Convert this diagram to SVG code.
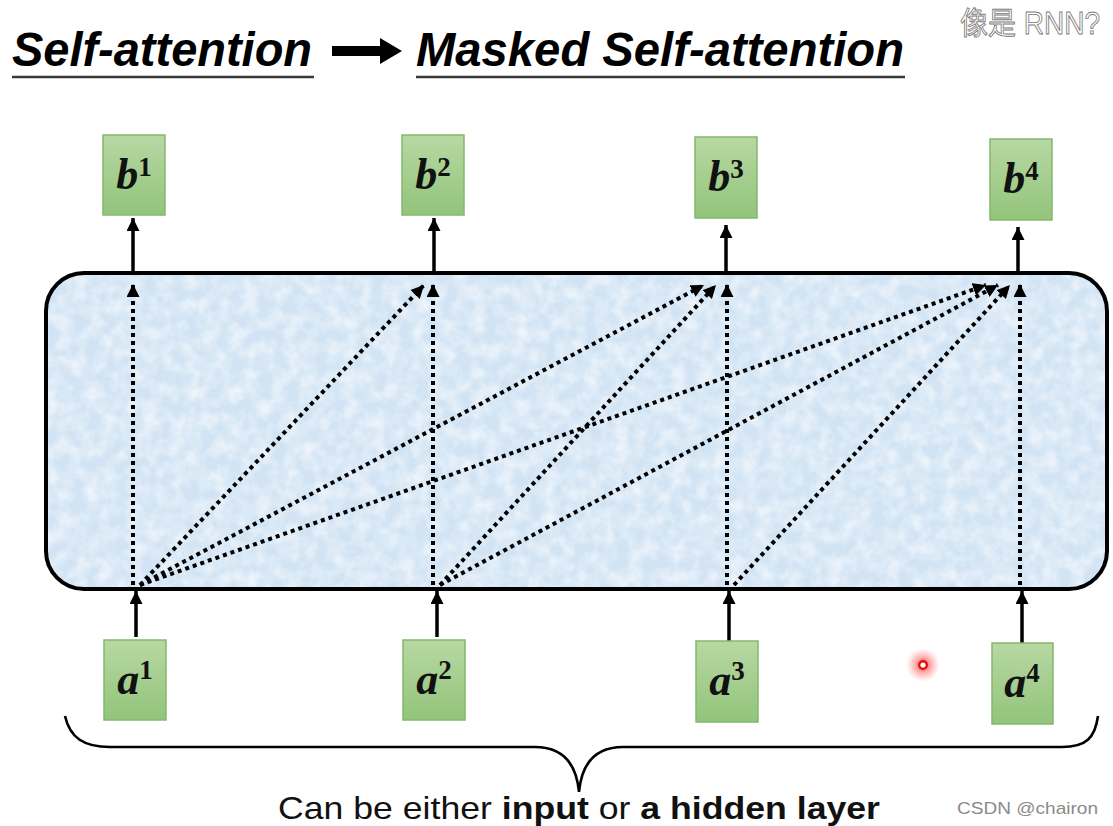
<svg xmlns="http://www.w3.org/2000/svg" width="1113" height="826" viewBox="0 0 1113 826">
<defs>
<style>
.title{font-family:"Liberation Sans",Arial,sans-serif;font-weight:bold;font-style:italic;font-size:48px;fill:#000}
.uline{stroke:#3a3a3a;stroke-width:2.5}
.node rect{fill:url(#g);stroke:#82b86c;stroke-width:1.5}
.lab{font-family:"Liberation Serif","Times New Roman",serif;font-weight:bold;fill:#111}
.base{font-style:italic;font-size:44px}
.sup{font-size:27px}
.solid{stroke:#000;stroke-width:3.5;fill:none}
.dot{stroke:#000;stroke-width:4;stroke-dasharray:4 4;fill:none}
.bottom{font-family:"Liberation Sans",Arial,sans-serif;font-size:32px;fill:#111}
</style>
<linearGradient id="g" x1="0" y1="0" x2="0" y2="1">
<stop offset="0" stop-color="#b8d8a3"/>
<stop offset="1" stop-color="#92c47b"/>
</linearGradient>
<radialGradient id="glow">
<stop offset="0" stop-color="#ff1010" stop-opacity="0.85"/>
<stop offset="0.45" stop-color="#ff3030" stop-opacity="0.4"/>
<stop offset="1" stop-color="#ff6060" stop-opacity="0"/>
</radialGradient>
<filter id="tex" x="0" y="0" width="100%" height="100%">
<feTurbulence type="fractalNoise" baseFrequency="0.07" numOctaves="3" seed="4"/>
<feColorMatrix type="matrix" values="0 0 0 0 1  0 0 0 0 1  0 0 0 0 1  0 0 0 1.6 -0.55"/>
<feComposite in2="SourceGraphic" operator="in"/>
</filter>
<marker id="ah" viewBox="0 0 12 12" refX="12" refY="6" markerWidth="13" markerHeight="13" markerUnits="userSpaceOnUse" orient="auto">
<path d="M0,0 L12,6 L0,12 Z" fill="#000"/>
</marker>
<marker id="dh" viewBox="0 0 12 12" refX="12" refY="6" markerWidth="13" markerHeight="13" markerUnits="userSpaceOnUse" orient="auto">
<path d="M0,0 L12,6 L0,12 Z" fill="#000"/>
</marker>
</defs>
<rect width="1113" height="826" fill="#fff"/>

<g id="title">
<text class="title" x="12" y="66" textLength="300" lengthAdjust="spacingAndGlyphs">Self-attention</text>
<line class="uline" x1="12" y1="77" x2="314" y2="77"/>
<polygon points="332,46 380,46 380,38 402,51 380,64 380,56 332,56" fill="#000"/>
<text class="title" x="416" y="66" textLength="488" lengthAdjust="spacingAndGlyphs">Masked Self-attention</text>
<line class="uline" x1="416" y1="77" x2="905" y2="77"/>
</g>

<g id="watermark-top">
<text x="960" y="34" textLength="140" lengthAdjust="spacingAndGlyphs" font-family="'Liberation Sans','Noto Sans CJK SC',sans-serif" font-size="31" fill="#fff" stroke="#7a7a7a" stroke-width="0.9">像是 RNN?</text>
</g>

<g id="layer">
<rect x="46" y="273" width="1061" height="316" rx="38" fill="#d2e4f4"/>
<rect x="46" y="273" width="1061" height="316" rx="38" fill="#fff" filter="url(#tex)" opacity="0.75"/>
<rect x="46" y="273" width="1061" height="316" rx="38" fill="none" stroke="#000" stroke-width="4"/>
</g>

<g id="connectors">
<line class="solid" x1="133" y1="271" x2="133" y2="218" marker-end="url(#ah)"/>
<line class="solid" x1="434" y1="271" x2="434" y2="218" marker-end="url(#ah)"/>
<line class="solid" x1="726" y1="271" x2="726" y2="225" marker-end="url(#ah)"/>
<line class="solid" x1="1018" y1="271" x2="1018" y2="227" marker-end="url(#ah)"/>
<line class="solid" x1="136" y1="637" x2="136" y2="591" marker-end="url(#ah)"/>
<line class="solid" x1="437" y1="637" x2="437" y2="591" marker-end="url(#ah)"/>
<line class="solid" x1="729" y1="641" x2="729" y2="591" marker-end="url(#ah)"/>
<line class="solid" x1="1022" y1="643" x2="1022" y2="591" marker-end="url(#ah)"/>

<line class="dot" x1="133" y1="585" x2="133" y2="284" marker-end="url(#dh)"/>
<line class="dot" x1="433" y1="585" x2="433" y2="284" marker-end="url(#dh)"/>
<line class="dot" x1="727" y1="585" x2="727" y2="284" marker-end="url(#dh)"/>
<line class="dot" x1="1020" y1="585" x2="1020" y2="284" marker-end="url(#dh)"/>

<line class="dot" x1="140" y1="585" x2="424" y2="285" marker-end="url(#dh)"/>
<line class="dot" x1="140" y1="585" x2="704" y2="285" marker-end="url(#dh)"/>
<line class="dot" x1="140" y1="585" x2="986" y2="285" marker-end="url(#dh)"/>
<line class="dot" x1="440" y1="585" x2="716" y2="285" marker-end="url(#dh)"/>
<line class="dot" x1="440" y1="585" x2="998" y2="285" marker-end="url(#dh)"/>
<line class="dot" x1="734" y1="585" x2="1010" y2="285" marker-end="url(#dh)"/>
</g>

<g id="b1" class="node"><rect x="103" y="135" width="62" height="80"/>
<text class="lab" x="134" y="189" text-anchor="middle"><tspan class="base">b</tspan><tspan class="sup" dy="-13">1</tspan></text></g>
<g id="b2" class="node"><rect x="402" y="135" width="62" height="80"/>
<text class="lab" x="433" y="189" text-anchor="middle"><tspan class="base">b</tspan><tspan class="sup" dy="-13">2</tspan></text></g>
<g id="b3" class="node"><rect x="695" y="137" width="62" height="81"/>
<text class="lab" x="726" y="191" text-anchor="middle"><tspan class="base">b</tspan><tspan class="sup" dy="-13">3</tspan></text></g>
<g id="b4" class="node"><rect x="990" y="139" width="62" height="81"/>
<text class="lab" x="1021" y="193" text-anchor="middle"><tspan class="base">b</tspan><tspan class="sup" dy="-13">4</tspan></text></g>

<g id="a1" class="node"><rect x="104" y="640" width="62" height="80"/>
<text class="lab" x="135" y="694" text-anchor="middle"><tspan class="base">a</tspan><tspan class="sup" dy="-15">1</tspan></text></g>
<g id="a2" class="node"><rect x="403" y="640" width="62" height="80"/>
<text class="lab" x="434" y="694" text-anchor="middle"><tspan class="base">a</tspan><tspan class="sup" dy="-15">2</tspan></text></g>
<g id="a3" class="node"><rect x="696" y="641" width="62" height="81"/>
<text class="lab" x="727" y="695" text-anchor="middle"><tspan class="base">a</tspan><tspan class="sup" dy="-15">3</tspan></text></g>
<g id="a4" class="node"><rect x="992" y="643" width="61" height="81"/>
<text class="lab" x="1022" y="697" text-anchor="middle"><tspan class="base">a</tspan><tspan class="sup" dy="-15">4</tspan></text></g>

<g id="pointer">
<circle cx="923" cy="665" r="17" fill="url(#glow)"/>
<circle cx="923" cy="665" r="3.8" fill="#fff" stroke="#e01010" stroke-width="2.4"/>
</g>

<g id="brace">
<path d="M65 716 C70 738 84 747 110 747 L535 747 C560 747 576 760 579 792 C582 760 598 747 623 747 L1062 747 C1086 747 1095 738 1098 716" fill="none" stroke="#000" stroke-width="2.6"/>
</g>

<g id="caption">
<text class="bottom" x="278" y="819" textLength="602" lengthAdjust="spacingAndGlyphs">Can be either <tspan font-weight="bold">input</tspan> or <tspan font-weight="bold">a hidden layer</tspan></text>
<text x="957" y="814" textLength="141" lengthAdjust="spacingAndGlyphs" font-family="'Liberation Sans',Arial,sans-serif" font-size="17" fill="#8a8a8a">CSDN @chairon</text>
</g>
</svg>
